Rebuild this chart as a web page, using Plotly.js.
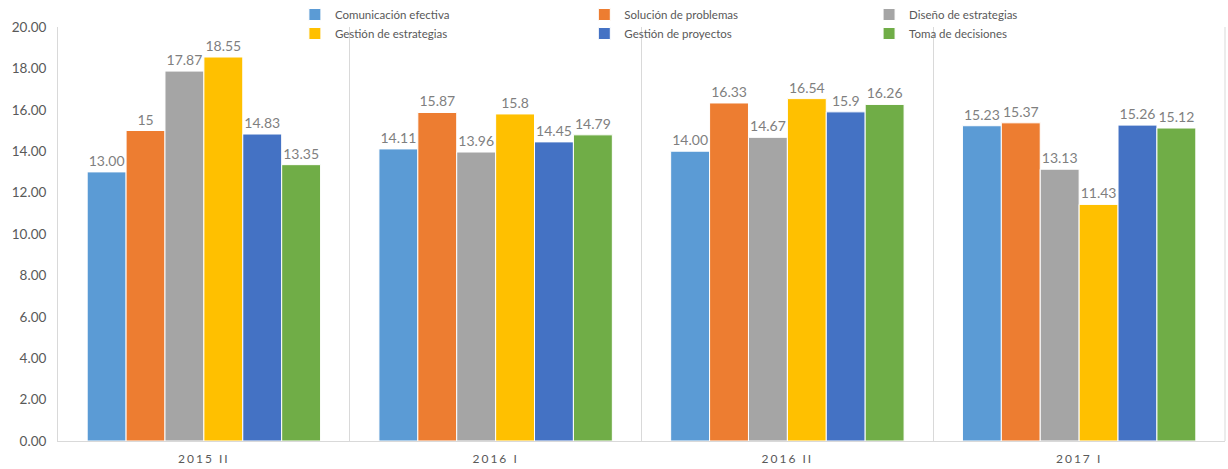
<!DOCTYPE html>
<html>
<head>
<meta charset="utf-8">
<script src="https://cdn.plot.ly/plotly-3.0.1.min.js"></script>
<style>
html,body{margin:0;padding:0;background:#fff;}
#chart{width:1228px;height:469px;}
#chart .xtick text{letter-spacing:2px;}
</style>
</head>
<body>
<div id="chart"></div>
<script>
const categories = ["2015 II", "2016 I", "2016 II", "2017 I"];
const seriesNames = ["Comunicación efectiva", "Solución de problemas", "Diseño de estrategias", "Gestión de estrategias", "Gestión de proyectos", "Toma de decisiones"];
const comunicacion = [13.00, 14.11, 14.00, 15.23];
const solucion = [15, 15.87, 16.33, 15.37];
const diseno = [17.87, 13.96, 14.67, 13.13];
const gestionEstrategias = [18.55, 15.8, 16.54, 11.43];
const gestionProyectos = [14.83, 14.45, 15.9, 15.26];
const tomaDecisiones = [13.35, 14.79, 16.26, 15.12];
const comunicacionLabels = ["13.00", "14.11", "14.00", "15.23"];
const solucionLabels = ["15", "15.87", "16.33", "15.37"];
const disenoLabels = ["17.87", "13.96", "14.67", "13.13"];
const gestionEstrategiasLabels = ["18.55", "15.8", "16.54", "11.43"];
const gestionProyectosLabels = ["14.83", "14.45", "15.9", "15.26"];
const tomaDecisionesLabels = ["13.35", "14.79", "16.26", "15.12"];
const yTicks = [0, 2, 4, 6, 8, 10, 12, 14, 16, 18, 20];
const yTickLabels = ["0.00", "2.00", "4.00", "6.00", "8.00", "10.00", "12.00", "14.00", "16.00", "18.00", "20.00"];
const colors = ["#5B9BD5", "#ED7D31", "#A5A5A5", "#FFC000", "#4472C4", "#70AD47"];

const values = [comunicacion, solucion, diseno, gestionEstrategias, gestionProyectos, tomaDecisiones];
const labels = [comunicacionLabels, solucionLabels, disenoLabels, gestionEstrategiasLabels, gestionProyectosLabels, tomaDecisionesLabels];
const legendIds = ["legend", "legend2", "legend3", "legend", "legend2", "legend3"];
const FONT = "Lato, 'Open Sans', sans-serif";

const traces = seriesNames.map((name, i) => ({
  type: "bar",
  name: name,
  legend: legendIds[i],
  x: categories,
  y: values[i],
  text: labels[i],
  textposition: "outside",
  cliponaxis: false,
  textfont: {family: FONT, size: 14, color: "#7F7F7F"},
  marker: {color: colors[i], line: {color: "#ffffff", width: 1}},
  hoverinfo: "x+y+name"
}));

function legendAt(x) {
  return {
    orientation: "v", x: x, xanchor: "left", xref: "paper",
    y: 1.003, yanchor: "top", yref: "container",
    itemwidth: 30, traceorder: "normal",
    font: {family: FONT, size: 11.5, color: "#595959"},
    bgcolor: "rgba(0,0,0,0)", tracegroupgap: 0
  };
}

const layout = {
  width: 1228, height: 469,
  margin: {l: 58, r: 3, t: 27, b: 28, autoexpand: false},
  paper_bgcolor: "#ffffff", plot_bgcolor: "#ffffff",
  font: {family: FONT, color: "#595959"},
  barmode: "group",
  bargap: 0.2, bargroupgap: 0,
  showlegend: true,
  legend: legendAt(0.203),
  legend2: legendAt(0.451),
  legend3: legendAt(0.695),
  xaxis: {
    type: "category", tickson: "boundaries", showgrid: true, gridcolor: "#D9D9D9", gridwidth: 1,
    showline: true, linecolor: "#D9D9D9", linewidth: 1, mirror: false,
    ticks: "", ticklabelstandoff: 7, tickfont: {family: FONT, size: 12, color: "#595959"},
    range: [-0.5, 3.5], fixedrange: true
  },
  yaxis: {
    range: [0, 20], tickvals: yTicks, ticktext: yTickLabels, showgrid: false, zeroline: false,
    showline: true, linecolor: "#D9D9D9", linewidth: 1, ticks: "", ticklabelstandoff: 8,
    tickfont: {family: FONT, size: 13.5, color: "#595959"}, fixedrange: true
  },
  shapes: [{type: "line", xref: "paper", yref: "paper", x0: 1, x1: 1, y0: 0, y1: 1, line: {color: "#D9D9D9", width: 1}}]
};

Plotly.newPlot("chart", traces, layout, {displayModeBar: false, staticPlot: true});
</script>
</body>
</html>
